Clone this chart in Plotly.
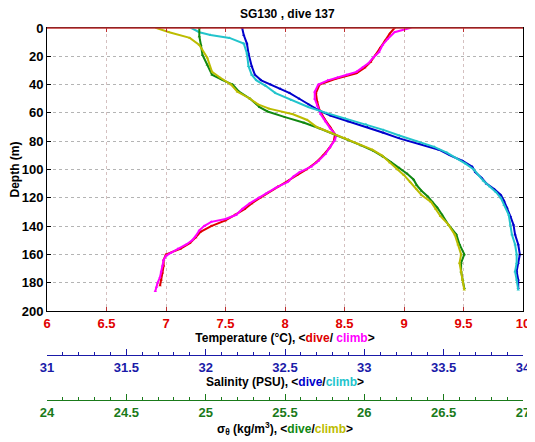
import plotly.graph_objects as go

# ---------------- data ----------------
# Temperature, dive (red)
temp_dive_depth = [0, 4, 9, 14, 19, 24, 28, 32, 36, 40, 46, 52, 58, 64, 70, 75, 80, 85, 90, 95,
                   100, 104, 108, 112, 116, 120, 124, 128, 132, 136, 140, 144, 148, 152, 156, 160,
                   164, 168, 173, 178, 182]
temp_dive = [8.92, 8.88, 8.84, 8.80, 8.76, 8.72, 8.67, 8.60, 8.42, 8.29, 8.26, 8.27, 8.29, 8.33,
             8.38, 8.42, 8.41, 8.37, 8.32, 8.26, 8.18, 8.10, 8.03, 7.94, 7.86, 7.79, 7.72, 7.66,
             7.58, 7.50, 7.38, 7.29, 7.25, 7.20, 7.12, 7.00, 6.98, 6.98, 6.97, 6.96, 6.95]
# Temperature, climb (magenta)
temp_climb_depth = [0, 3, 8, 12, 17, 21, 25, 28, 31, 33, 35, 37, 40, 45, 50, 55, 61, 66, 71, 76,
                    79, 84, 89, 94, 98, 102, 105, 109, 113, 117, 120, 124, 128, 132, 135, 137, 140,
                    143, 147, 150, 153, 156, 159, 161, 164, 168, 172, 176, 180, 183, 186]
temp_climb = [9.05, 8.92, 8.86, 8.82, 8.79, 8.74, 8.70, 8.65, 8.60, 8.52, 8.44, 8.36, 8.28, 8.25,
              8.25, 8.27, 8.30, 8.34, 8.38, 8.43, 8.42, 8.38, 8.34, 8.28, 8.22, 8.12, 8.07, 8.02,
              7.92, 7.84, 7.78, 7.70, 7.64, 7.59, 7.50, 7.38, 7.32, 7.28, 7.25, 7.22, 7.17, 7.10,
              7.04, 7.00, 6.98, 6.97, 6.96, 6.95, 6.93, 6.92, 6.91]

# Salinity, dive (blue)
sal_dive_depth = [0, 5, 11, 18, 27, 33, 37, 40, 43, 46, 50, 54, 58, 62, 66, 70, 74, 78, 82, 86,
                  90, 94, 98, 102, 106, 110, 114, 118, 122, 127, 133, 139, 146, 153, 160, 166,
                  172, 178, 184]
sal_dive = [32.23, 32.24, 32.26, 32.27, 32.29, 32.31, 32.35, 32.41, 32.47, 32.53, 32.59, 32.65,
            32.71, 32.79, 32.90, 33.02, 33.12, 33.22, 33.35, 33.47, 33.54, 33.62, 33.68, 33.70,
            33.74, 33.77, 33.82, 33.86, 33.88, 33.90, 33.92, 33.94, 33.95, 33.97, 33.98, 33.97,
            33.96, 33.97, 33.97]
# Salinity, climb (cyan)
sal_climb_depth = [0, 3, 5, 7, 11, 18, 27, 33, 37, 41, 46, 51, 56, 60, 64, 68, 72, 76, 80, 84,
                   88, 92, 96, 100, 104, 108, 112, 116, 120, 125, 132, 139, 146, 153, 160, 166,
                   172, 178, 185]
sal_climb = [31.91, 31.96, 32.03, 32.15, 32.24, 32.26, 32.27, 32.29, 32.32, 32.38, 32.44, 32.54,
             32.65, 32.76, 32.88, 33.01, 33.12, 33.22, 33.33, 33.44, 33.52, 33.58, 33.64, 33.69,
             33.72, 33.75, 33.79, 33.83, 33.86, 33.88, 33.91, 33.92, 33.93, 33.95, 33.96, 33.96,
             33.95, 33.96, 33.97]

# Potential density sigma-theta, dive (green)
sig_dive_depth = [0, 6, 12, 19, 26, 33, 37, 40, 45, 50, 56, 59, 63, 67, 71, 75, 79, 83, 87, 91,
                  95, 99, 103, 107, 111, 115, 119, 123, 127, 132, 139, 146, 153, 160, 166, 172,
                  178, 184]
sig_dive = [24.96, 24.96, 24.97, 24.98, 25.01, 25.04, 25.11, 25.17, 25.21, 25.28, 25.34, 25.39,
            25.50, 25.62, 25.72, 25.81, 25.90, 25.98, 26.06, 26.12, 26.17, 26.22, 26.27, 26.31,
            26.33, 26.36, 26.40, 26.43, 26.46, 26.49, 26.53, 26.58, 26.60, 26.63, 26.61, 26.61,
            26.62, 26.63]
# Potential density sigma-theta, climb (olive)
sig_climb_depth = [0, 3, 7, 12, 21, 31, 35, 40, 45, 50, 54, 57, 61, 65, 70, 74, 78, 82, 86, 90,
                   95, 100, 104, 109, 114, 118, 123, 128, 133, 139, 146, 153, 160, 166, 172, 178,
                   185]
sig_climb = [24.69, 24.77, 24.90, 24.96, 25.01, 25.04, 25.09, 25.16, 25.20, 25.28, 25.33, 25.40,
             25.55, 25.64, 25.70, 25.79, 25.88, 25.96, 26.05, 26.11, 26.16, 26.21, 26.25, 26.29,
             26.33, 26.36, 26.42, 26.45, 26.48, 26.53, 26.57, 26.59, 26.61, 26.60, 26.61, 26.62,
             26.63]

temp_ticks = [6, 6.5, 7, 7.5, 8, 8.5, 9, 9.5, 10]
sal_ticks = [31, 31.5, 32, 32.5, 33, 33.5, 34]
sig_ticks = [24, 24.5, 25, 25.5, 26, 26.5, 27]
depth_ticks = [0, 20, 40, 60, 80, 100, 120, 140, 160, 180, 200]

# ---------------- styling ----------------
FONT = "Liberation Sans, Arial, sans-serif"
C_TDIVE, C_TCLIMB = "#e00000", "#ff00ff"
C_SDIVE, C_SCLIMB = "#0000cc", "#22c4cc"
C_GDIVE, C_GCLIMB = "#118811", "#bcbc00"
C_TLAB, C_SLAB, C_GLAB = "#e00000", "#1a1aa8", "#1a7a1a"


def trace(x, y, color, xaxis):
    return go.Scatter(x=x, y=y, mode="lines+markers", xaxis=xaxis, yaxis="y",
                      line=dict(color=color, width=2),
                      marker=dict(color=color, size=3, symbol="triangle-up"),
                      showlegend=False, hoverinfo="skip")


fig = go.Figure()
fig.add_trace(trace(temp_dive, temp_dive_depth, C_TDIVE, "x"))
fig.add_trace(trace(temp_climb, temp_climb_depth, C_TCLIMB, "x"))
fig.add_trace(trace(sal_dive, sal_dive_depth, C_SDIVE, "x2"))
fig.add_trace(trace(sal_climb, sal_climb_depth, C_SCLIMB, "x2"))
fig.add_trace(trace(sig_dive, sig_dive_depth, C_GDIVE, "x3"))
fig.add_trace(trace(sig_climb, sig_climb_depth, C_GCLIMB, "x3"))

# the page body adds an 8px offset, so the figure is drawn 8px smaller
OFF = 8
W, H = 535 - OFF, 442 - OFF
top, bot = 28 - OFF, 42
paper_h = H - top - bot
ydom0 = (H - bot - (311 - OFF)) / paper_h
sal_pos = (H - bot - (355 - OFF)) / paper_h

fig.update_layout(
    width=W, height=H,
    margin=dict(l=47 - OFF, r=12, t=top, b=bot, autoexpand=False),
    paper_bgcolor="white", plot_bgcolor="white",
    font=dict(family=FONT, size=12, color="black"),
    title=dict(text="<b>SG130 , dive 137</b>", x=0.53, xanchor="center",
               y=1 - 2 / H, yanchor="top", yref="container",
               font=dict(size=12, color="black")),
    xaxis=dict(range=[6, 10], tickvals=temp_ticks, ticktext=[f"{v:g}" for v in temp_ticks],
               tickfont=dict(color=C_TLAB, size=13, weight="bold"),
               ticks="inside", ticklen=4, tickcolor="#c03030", mirror="ticks",
               showline=True, linecolor="black", linewidth=1,
               showgrid=True, gridcolor="#d4c0c0", griddash="dot", gridwidth=1,
               zeroline=False, anchor="y", automargin=False,
               title=dict(text="<b>Temperature (°C), &lt;<span style='color:" + C_TDIVE +
                          "'>dive</span>/ <span style='color:" + C_TCLIMB +
                          "'>climb</span>&gt;</b>", standoff=2,
                          font=dict(size=12, color="black"))),
    xaxis2=dict(range=[31, 34], tickvals=sal_ticks, ticktext=[f"{v:g}" for v in sal_ticks],
                overlaying="x", anchor="free", position=sal_pos, side="bottom",
                tickfont=dict(color=C_SLAB, size=13, weight="bold"),
                ticks="inside", ticklen=6, tickcolor=C_SLAB,
                minor=dict(dtick=0.1, ticks="inside", ticklen=3, tickcolor=C_SLAB, showgrid=False),
                showline=True, linecolor=C_SLAB, linewidth=1,
                showgrid=False, zeroline=False, automargin=False,
                title=dict(text="<b>Salinity (PSU), &lt;<span style='color:" + C_SDIVE +
                           "'>dive</span>/<span style='color:" + C_SCLIMB +
                           "'>climb</span>&gt;</b>", standoff=2,
                           font=dict(size=12, color="black"))),
    xaxis3=dict(range=[24, 27], tickvals=sig_ticks, ticktext=[f"{v:g}" for v in sig_ticks],
                overlaying="x", anchor="free", position=0, side="bottom",
                tickfont=dict(color=C_GLAB, size=13, weight="bold"),
                ticks="inside", ticklen=6, tickcolor=C_GLAB,
                minor=dict(dtick=0.1, ticks="inside", ticklen=3, tickcolor=C_GLAB, showgrid=False),
                showline=True, linecolor=C_GLAB, linewidth=1,
                showgrid=False, zeroline=False, automargin=False,
                title=dict(text="<b>σ<sub>θ</sub> (kg/m<sup>3</sup>), &lt;<span style='color:" +
                           C_GDIVE + "'>dive</span>/<span style='color:" + C_GCLIMB +
                           "'>climb</span>&gt;</b>", standoff=2,
                           font=dict(size=12, color="black"))),
    yaxis=dict(range=[200, 0], domain=[ydom0, 1], tickvals=depth_ticks,
               tickfont=dict(color="black", size=13, weight="bold"),
               ticks="inside", ticklen=4, tickcolor="black", mirror="ticks",
               showline=True, linecolor="black", linewidth=1,
               showgrid=True, gridcolor="#b4b4b4", griddash="dot", gridwidth=1,
               zeroline=False, automargin=False,
               title=dict(text="<b>Depth (m)</b>", standoff=4, font=dict(size=12))),
    shapes=[dict(type="line", xref="x domain", yref="y domain", x0=0, x1=1, y0=1, y1=1,
                 line=dict(color="#c03030", width=1.5))],
)

fig.write_html("out.html")
